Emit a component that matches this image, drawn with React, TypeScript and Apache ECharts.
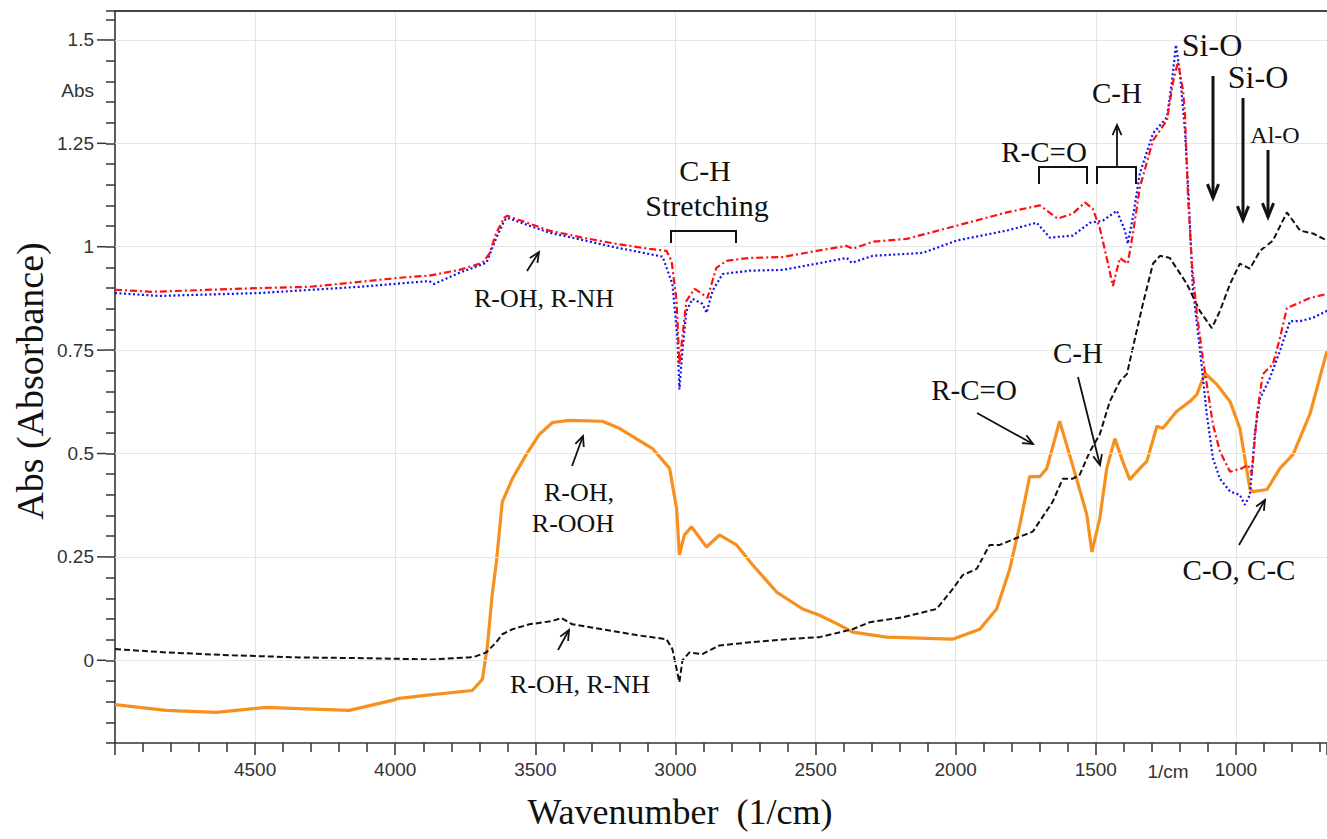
import React, { useEffect, useRef } from "react";
import * as echarts from "echarts";

// FTIR spectra: [wavenumber (1/cm), absorbance]
const RED_SERIES: number[][] = [
  [5000, 0.896], [4868, 0.891], [4486, 0.9], [4307, 0.903], [4129, 0.915], [3986, 0.925], [3879, 0.93],
  [3771, 0.944], [3689, 0.961], [3664, 0.983], [3639, 1.034], [3611, 1.07], [3600, 1.075], [3450, 1.039],
  [3332, 1.022], [3211, 1.007], [3093, 0.995], [3032, 0.99], [3014, 0.966], [2996, 0.869], [2986, 0.716],
  [2961, 0.869], [2932, 0.898], [2904, 0.886], [2886, 0.876], [2854, 0.949], [2818, 0.966], [2736, 0.973],
  [2618, 0.975], [2496, 0.99], [2389, 1.002], [2368, 0.995], [2296, 1.012], [2175, 1.019], [1996, 1.051],
  [1818, 1.083], [1700, 1.1], [1636, 1.068], [1582, 1.08], [1539, 1.107], [1511, 1.092], [1486, 1.046],
  [1461, 0.973], [1439, 0.905], [1414, 0.973], [1386, 0.959], [1368, 1.03], [1343, 1.143], [1296, 1.257],
  [1246, 1.306], [1225, 1.396], [1207, 1.447], [1189, 1.379], [1182, 1.323], [1171, 1.12], [1157, 0.959],
  [1139, 0.837], [1118, 0.73], [1100, 0.65], [1082, 0.57], [1057, 0.505], [1021, 0.456], [979, 0.464],
  [957, 0.473], [943, 0.45], [925, 0.595], [904, 0.692], [868, 0.716], [843, 0.779], [818, 0.852],
  [782, 0.862], [736, 0.876], [675, 0.886],
];

const BLUE_SERIES: number[][] = [
  [5000, 0.888], [4843, 0.881], [4486, 0.888], [4129, 0.903], [3879, 0.917], [3861, 0.91], [3771, 0.937],
  [3675, 0.961], [3639, 1.022], [3611, 1.063], [3600, 1.07], [3450, 1.034], [3211, 0.998], [3046, 0.976],
  [3011, 0.91], [2993, 0.78], [2986, 0.655], [2975, 0.75], [2961, 0.845], [2939, 0.874], [2904, 0.862],
  [2889, 0.84], [2868, 0.893], [2832, 0.934], [2736, 0.942], [2618, 0.944], [2496, 0.959], [2389, 0.973],
  [2371, 0.961], [2296, 0.978], [2118, 0.985], [1996, 1.015], [1818, 1.039], [1711, 1.058], [1664, 1.022],
  [1582, 1.027], [1521, 1.058], [1475, 1.063], [1425, 1.087], [1396, 1.039], [1386, 1.007], [1368, 1.07],
  [1343, 1.177], [1296, 1.274], [1246, 1.313], [1229, 1.396], [1214, 1.488], [1200, 1.42], [1182, 1.282],
  [1168, 1.112], [1154, 0.9], [1129, 0.755], [1104, 0.595], [1082, 0.488], [1057, 0.439], [1021, 0.408],
  [986, 0.4], [968, 0.376], [950, 0.4], [932, 0.553], [914, 0.633], [879, 0.682], [843, 0.748], [807, 0.82],
  [771, 0.82], [725, 0.828], [675, 0.845],
];

const BLACK_SERIES: number[][] = [
  [5000, 0.027], [4818, 0.019], [4582, 0.012], [4343, 0.007], [4104, 0.005], [3868, 0.002], [3736, 0.007],
  [3711, 0.01], [3675, 0.019], [3639, 0.044], [3618, 0.063], [3582, 0.075], [3521, 0.087], [3439, 0.095],
  [3407, 0.102], [3368, 0.087], [3261, 0.075], [3139, 0.061], [3032, 0.051], [3011, 0.027], [2986, -0.053],
  [2975, 0.0], [2950, 0.019], [2904, 0.015], [2843, 0.036], [2725, 0.044], [2604, 0.051], [2486, 0.056],
  [2368, 0.075], [2307, 0.092], [2189, 0.104], [2068, 0.124], [2011, 0.172], [1975, 0.206], [1925, 0.221],
  [1879, 0.279], [1843, 0.279], [1771, 0.299], [1725, 0.311], [1654, 0.383], [1618, 0.439], [1582, 0.439],
  [1557, 0.449], [1521, 0.505], [1486, 0.546], [1450, 0.626], [1414, 0.675], [1389, 0.692], [1368, 0.755],
  [1332, 0.862], [1296, 0.959], [1271, 0.978], [1236, 0.973], [1175, 0.91], [1129, 0.845], [1086, 0.803],
  [1057, 0.845], [1021, 0.91], [986, 0.959], [950, 0.947], [914, 0.99], [868, 1.015], [818, 1.083],
  [771, 1.039], [725, 1.032], [675, 1.015],
];

const ORANGE_SERIES: number[][] = [
  [5000, -0.107], [4818, -0.121], [4639, -0.126], [4461, -0.114], [4343, -0.117], [4164, -0.121],
  [4011, -0.097], [3986, -0.092], [3868, -0.083], [3725, -0.073], [3689, -0.046], [3671, 0.036],
  [3654, 0.158], [3639, 0.238], [3618, 0.383], [3582, 0.439], [3532, 0.498], [3486, 0.546], [3439, 0.575],
  [3379, 0.58], [3261, 0.578], [3200, 0.561], [3082, 0.512], [3021, 0.464], [2996, 0.367], [2986, 0.255],
  [2968, 0.303], [2943, 0.323], [2889, 0.274], [2843, 0.303], [2782, 0.279], [2725, 0.231], [2639, 0.165],
  [2546, 0.124], [2486, 0.109], [2414, 0.085], [2368, 0.068], [2246, 0.056], [2011, 0.051], [1914, 0.075],
  [1854, 0.124], [1807, 0.221], [1771, 0.328], [1736, 0.444], [1700, 0.444], [1675, 0.464], [1629, 0.578],
  [1582, 0.47], [1532, 0.352], [1514, 0.262], [1486, 0.342], [1461, 0.464], [1432, 0.536], [1404, 0.481],
  [1379, 0.437], [1343, 0.464], [1318, 0.481], [1282, 0.566], [1261, 0.561], [1211, 0.602], [1164, 0.626],
  [1139, 0.643], [1111, 0.694], [1068, 0.667], [1021, 0.626], [986, 0.561], [950, 0.415], [939, 0.408],
  [889, 0.413], [843, 0.464], [796, 0.498], [736, 0.595], [675, 0.748],
];

const X_MIN = 675;
const X_MAX = 5000;
const Y_MIN = -0.2;
const Y_MAX = 1.57;
const Y_LABEL_STEP = 0.25;
const Y_GRID_VALUES = [0, 0.25, 0.5, 0.75, 1, 1.25, 1.5];

const SERIF = '"Liberation Serif", "Times New Roman", serif';
const SANS = '"Liberation Sans", Arial, sans-serif';
const INK = "#111";

function txt(text: string, x: number, y: number, size: number, align = "center", rotation = 0, font = SERIF, fill = INK) {
  return {
    type: "text",
    x,
    y,
    rotation,
    z: 100,
    style: {
      text,
      font: `${size}px ${font}`,
      fill,
      align,
      verticalAlign: "middle",
      textAlign: align,
      textVerticalAlign: "middle",
    },
  };
}

function arrow(x1: number, y1: number, x2: number, y2: number, w = 1.8, L = 11, phi = 0.42) {
  const a = Math.atan2(y2 - y1, x2 - x1);
  const p1 = [x2 - L * Math.cos(a - phi), y2 - L * Math.sin(a - phi)];
  const p2 = [x2 - L * Math.cos(a + phi), y2 - L * Math.sin(a + phi)];
  return {
    type: "group",
    z: 100,
    children: [
      { type: "line", z: 100, shape: { x1, y1, x2, y2 }, style: { stroke: INK, lineWidth: w } },
      { type: "polyline", z: 100, shape: { points: [p1, [x2, y2], p2] }, style: { stroke: INK, lineWidth: w, fill: "none" } },
    ],
  };
}

function bracket(xl: number, xr: number, yTop: number, yBottom: number) {
  return {
    type: "polyline",
    z: 100,
    shape: { points: [[xl, yBottom], [xl, yTop], [xr, yTop], [xr, yBottom]] },
    style: { stroke: INK, lineWidth: 2, fill: "none" },
  };
}

export default function App() {
  const ref = useRef<HTMLDivElement>(null);

  useEffect(() => {
    const chart = echarts.init(ref.current!, null, { renderer: "svg" });

    const axisColor = "#333";
    const option: any = {
      animation: false,
      backgroundColor: "#fff",
      grid: { left: 115, top: 11, right: 0, bottom: 96, outerBoundsMode: "none" },
      xAxis: [
        {
          type: "value",
          inverse: true,
          min: X_MIN,
          max: X_MAX,
          splitNumber: 9,
          position: "bottom",
          axisLine: { show: true, onZero: false, lineStyle: { color: axisColor, width: 1.6 } },
          axisTick: { show: true, length: 12, lineStyle: { color: axisColor, width: 1.5 } },
          minorTick: { show: true, splitNumber: 5, length: 9, lineStyle: { color: axisColor, width: 1.5 } },
          axisLabel: {
            showMinLabel: false,
            showMaxLabel: false,
            margin: 17,
            fontSize: 19,
            fontFamily: SANS,
            color: axisColor,
            formatter: (v: number) => String(Math.round(v)),
          },
          splitLine: { show: true, showMinLine: false, showMaxLine: false, lineStyle: { color: "#e6e6e6", width: 1 } },
        },
        {
          type: "value",
          inverse: true,
          min: X_MIN,
          max: X_MAX,
          position: "top",
          axisLine: { show: true, onZero: false, lineStyle: { color: "#444", width: 2 } },
          axisTick: { show: false },
          axisLabel: { show: false },
          splitLine: { show: false },
        },
      ],
      yAxis: {
        type: "value",
        min: Y_MIN,
        max: Y_MAX,
        interval: 0.05,
        axisLine: { show: true, onZero: false, lineStyle: { color: axisColor, width: 1.6 } },
        axisTick: { show: true, length: 9, lineStyle: { color: axisColor, width: 1.5 } },
        splitLine: { show: false },
        axisLabel: {
          margin: 9,
          formatter: (v: number) => {
            const k = Math.round(v / Y_LABEL_STEP);
            if (v < -1e-9 || Math.abs(v - k * Y_LABEL_STEP) > 1e-6) return "";
            const s = String(+(k * Y_LABEL_STEP).toFixed(2));
            return `{v|${s}}{g| }{t| }`;
          },
          rich: {
            v: { fontSize: 19, fontFamily: SANS, color: axisColor },
            g: { width: 3, fontSize: 19 },
            t: { width: 9, height: 1.5, fontSize: 2, lineHeight: 2, backgroundColor: axisColor },
          },
        },
      },
      series: [
        {
          name: "grid",
          type: "line",
          data: [],
          z: 1,
          silent: true,
          markLine: {
            silent: true,
            symbol: ["none", "none"],
            label: { show: false },
            lineStyle: { color: "#e6e6e6", type: "solid", width: 1 },
            data: Y_GRID_VALUES.map((v) => ({ yAxis: v })),
          },
        },
        {
          name: "orange",
          type: "line",
          data: ORANGE_SERIES,
          showSymbol: false,
          z: 3,
          lineStyle: { color: "#f7901e", width: 3.2, type: "solid" },
        },
        {
          name: "black",
          type: "line",
          data: BLACK_SERIES,
          showSymbol: false,
          z: 4,
          lineStyle: { color: "#111", width: 2, type: [6, 3] },
        },
        {
          name: "blue",
          type: "line",
          data: BLUE_SERIES,
          showSymbol: false,
          z: 5,
          lineStyle: { color: "#1010ee", width: 2.2, type: [2, 2.5] },
        },
        {
          name: "red",
          type: "line",
          data: RED_SERIES,
          showSymbol: false,
          z: 6,
          lineStyle: { color: "#ff1010", width: 2.2, type: [7, 3, 2, 3] },
        },
      ],
      graphic: [
        // axis titles and unit labels
        txt("Abs (Absorbance)", 30, 381, 38, "center", Math.PI / 2),
        txt("Wavenumber  (1/cm)", 680, 812, 36),
        txt("Abs", 94, 90, 19, "right", 0, SANS, axisColor),
        txt("1/cm", 1168, 771, 19, "center", 0, SANS, axisColor),
        // C-H stretching
        txt("C-H", 705, 170, 30),
        txt("Stretching", 707, 205, 30),
        bracket(671, 736, 231, 243),
        // R-OH, R-NH (upper)
        txt("R-OH, R-NH", 544, 298, 26),
        arrow(527, 271, 539, 252),
        // R-OH, R-OOH
        txt("R-OH,", 579, 492, 26),
        txt("R-OOH", 573, 523, 26),
        arrow(572, 466, 583, 436),
        // R-OH, R-NH (lower)
        txt("R-OH, R-NH", 580, 684, 26),
        arrow(558, 650, 569, 630),
        // R-C=O (upper) and C-H (upper)
        txt("R-C=O", 1044, 152, 29),
        bracket(1039, 1087, 167, 184),
        txt("C-H", 1117, 93, 29),
        bracket(1097, 1136, 167, 184),
        arrow(1117, 167, 1117, 125),
        // Si-O, Si-O, Al-O
        txt("Si-O", 1212, 45, 32),
        txt("Si-O", 1258, 77, 32),
        txt("Al-O", 1275, 135, 24),
        arrow(1213, 76, 1213, 198, 3, 15, 0.38),
        arrow(1243, 98, 1243, 220, 3, 15, 0.38),
        arrow(1268, 150, 1268, 217, 3, 15, 0.38),
        // lower annotations
        txt("R-C=O", 974, 390, 29),
        arrow(977, 413, 1033, 444),
        txt("C-H", 1078, 353, 29),
        arrow(1078, 377, 1100, 465),
        txt("C-O, C-C", 1239, 570, 29),
        arrow(1239, 545, 1265, 500),
      ],
    };

    chart.setOption(option);
    return () => chart.dispose();
  }, []);

  return (
    <div
      ref={ref}
      style={{ position: "fixed", left: 0, top: 0, width: 1327, height: 839, background: "#fff" }}
    />
  );
}
